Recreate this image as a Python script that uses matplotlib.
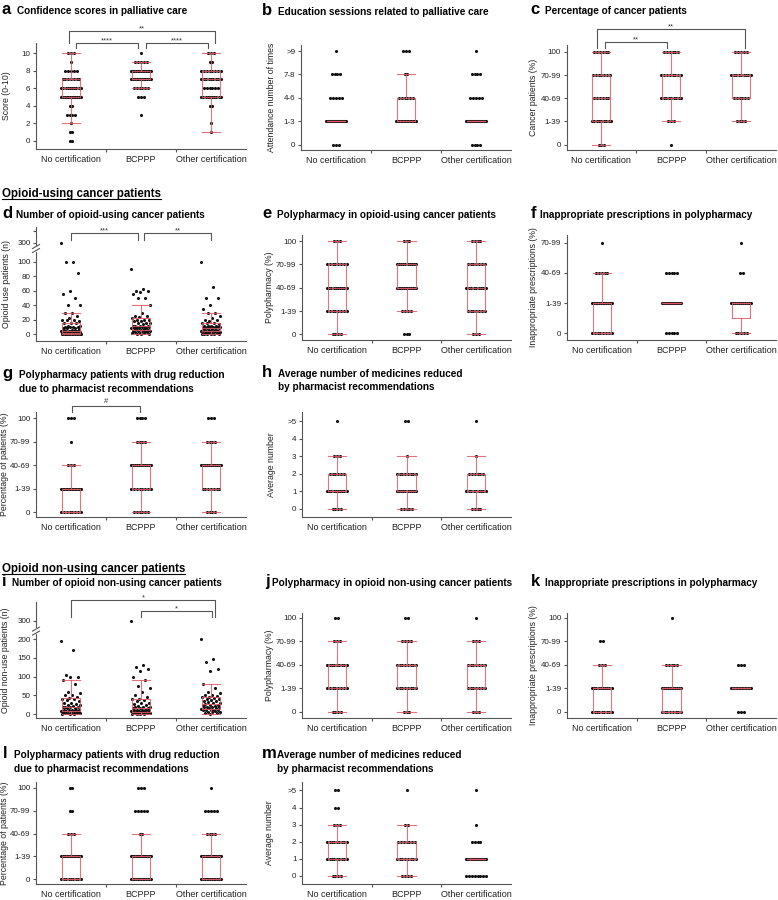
import numpy as np
import matplotlib
matplotlib.use("Agg")
import matplotlib.pyplot as plt
from matplotlib.lines import Line2D

plt.rcParams['font.family'] = ['Liberation Sans', 'DejaVu Sans']

W, H = 778, 900
BOX = "#dc5a67"
AXC = "#555555"

groups = ["No certification", "BCPPP", "Other certification"]
pct_labels = ["0", "1-39", "40-69", "70-99", "100"]
edu_labels = ["0", "1-3", "4-6", "7-8", ">9"]
num_labels = ["0", "1", "2", "3", "4", ">5"]
inap_labels = ["0", "1-39", "40-69", "70-99"]

# number of respondents at each answer level (one list per group)
a_counts = [[2, 2, 1, 4, 2, 12, 10, 7, 5, 1, 3],
            [0, 0, 0, 1, 0, 3, 6, 12, 13, 5, 1],
            [0, 1, 1, 0, 2, 10, 6, 9, 8, 2, 3]]
b_counts = [[3, 28, 5, 4, 1], [0, 14, 6, 2, 3], [4, 28, 5, 4, 1]]
c_counts = [[3, 9, 6, 7, 6], [1, 3, 9, 8, 6], [0, 4, 6, 9, 5]]
e_counts = [[4, 8, 10, 8, 3], [3, 4, 12, 10, 3], [3, 7, 9, 7, 4]]
f_counts = [[8, 12, 5, 1], [5, 20, 5, 0], [5, 11, 2, 1]]
g_counts = [[8, 14, 3, 1, 3], [6, 8, 11, 4, 4], [4, 7, 11, 4, 3]]
h_counts = [[4, 10, 6, 3, 0, 1], [5, 10, 8, 1, 0, 2], [4, 9, 6, 1, 0, 1]]
j_counts = [[4, 8, 9, 3, 2], [3, 8, 8, 4, 2], [3, 7, 7, 3, 1]]
k_counts = [[9, 10, 3, 2, 0], [8, 11, 5, 0, 1], [3, 14, 3, 0, 0]]
l_counts = [[9, 15, 3, 2, 2], [13, 19, 2, 5, 3], [12, 19, 4, 5, 1]]
m_counts = [[4, 9, 9, 3, 2, 2], [4, 8, 7, 2, 0, 1], [8, 20, 4, 1, 0, 1]]

# opioid-using patients per pharmacy (n)
d_none = [300, 100, 100, 85, 60, 55, 50, 40, 40, 30, 30, 25, 22, 20, 20, 20, 18,
          15, 15, 15, 12, 12, 10, 10, 10, 10, 8, 8, 8, 7, 6, 6, 5, 5, 5, 5, 5,
          4, 4, 4, 4, 3, 3, 3, 3, 3, 3, 2, 2, 2, 2, 2, 2, 2, 1, 1, 1, 1, 1, 1,
          1, 1, 1, 0, 0, 0, 0, 0, 0]
d_bcppp = [90, 62, 60, 60, 58, 55, 50, 50, 40, 30, 25, 25, 24, 22, 20, 20, 20,
           18, 18, 15, 15, 15, 14, 12, 12, 12, 11, 10, 10, 10, 10, 9, 8, 8, 8,
           7, 7, 6, 6, 5, 5, 5, 4, 4, 3, 3, 2, 2, 2, 1, 0, 0]
d_other = [100, 65, 50, 50, 40, 35, 30, 30, 25, 22, 20, 20, 18, 15, 15, 15, 14,
           12, 12, 12, 11, 10, 10, 10, 10, 10, 9, 8, 8, 8, 7, 7, 6, 6, 5, 5, 5,
           5, 4, 4, 4, 3, 3, 3, 2, 2, 2, 1, 1, 1, 0, 0, 0]
# opioid non-using patients per pharmacy (n)
i_none = [195, 170, 105, 100, 100, 90, 80, 60, 55, 50, 50, 45, 42, 40, 40, 38,
          35, 30, 30, 28, 25, 25, 22, 20, 20, 20, 18, 15, 15, 12, 12, 10, 10,
          10, 8, 8, 7, 6, 5, 5, 5, 4, 3, 3, 2, 2, 1, 0, 0]
i_bcppp = [300, 130, 125, 120, 115, 100, 90, 75, 70, 60, 50, 45, 40, 40, 38, 35,
           30, 30, 28, 25, 22, 20, 20, 18, 15, 15, 15, 12, 12, 10, 10, 10, 10,
           8, 8, 7, 6, 5, 5, 5, 5, 4, 3, 3, 2, 2, 1, 1, 0, 0]
i_other = [200, 148, 140, 120, 115, 80, 70, 60, 55, 50, 50, 48, 45, 45, 42, 40,
           40, 38, 35, 35, 32, 30, 30, 28, 25, 25, 25, 22, 20, 20, 20, 18, 15,
           15, 14, 12, 12, 10, 10, 10, 8, 6, 5, 5, 3, 2, 0]


def expand(counts):
    return [np.repeat(np.arange(len(c)), c) for c in counts]


def spread(vals, ordinal):
    vals = np.asarray(vals, float)
    off = np.zeros(len(vals))
    if ordinal:
        for v in np.unique(vals):
            idx = np.where(vals == v)[0]
            k = len(idx)
            if k > 1:
                hw = min(0.14, 0.04 * (k - 1) / 2)
                off[idx] = np.linspace(-hw, hw, k)
    else:
        off = ((np.arange(len(vals)) * 0.618034) % 1 - 0.5) * 0.28
    return off


def brk(lim, k):
    fwd = lambda y: np.where(y <= lim, y, lim + (y - lim) * k)
    inv = lambda z: np.where(z <= lim, z, lim + (z - lim) / k)
    return fwd, inv


fig = plt.figure(figsize=(W / 100, H / 100), dpi=100)


def panel(rect, data, ylim, yticks, yticklabels, ylabel, labx, ordinal=True, scale=None):
    l, t, r, b = rect
    ax = fig.add_axes([l / W, 1 - b / H, (r - l) / W, (b - t) / H])
    if scale is not None:
        ax.set_yscale('function', functions=scale)
    for i, vals in enumerate(data):
        ax.scatter(i + spread(vals, ordinal), vals, s=5, color='#111111', lw=0,
                   zorder=2, clip_on=False)
    lp = dict(color=BOX, lw=0.8, alpha=0.85)
    ax.boxplot(data, positions=[0, 1, 2], widths=0.26, capwidths=0.26, whis=1.5,
               showfliers=False, boxprops=lp, whiskerprops=lp, capprops=lp,
               medianprops=lp, zorder=3)
    ax.set_xlim(-0.5, 2.5)
    ax.set_ylim(*ylim)
    ax.set_xticks([0, 1, 2])
    ax.set_xticklabels(groups, fontsize=6.5, color='#222222')
    ax.set_xticks([0.5, 1.5], minor=True)
    ax.tick_params(axis='x', which='major', length=0, pad=4.5)
    ax.tick_params(axis='x', which='minor', length=2.5, width=0.8, color=AXC)
    ax.set_yticks(yticks)
    ax.set_yticklabels(yticklabels, fontsize=5.8, color='#222222')
    ax.yaxis.set_minor_locator(matplotlib.ticker.NullLocator())
    ax.tick_params(axis='y', length=2.5, width=0.8, color=AXC, pad=1.5)
    for s in ['top', 'right']:
        ax.spines[s].set_visible(False)
    for s in ['left', 'bottom']:
        ax.spines[s].set_color(AXC)
        ax.spines[s].set_linewidth(0.8)
    ax.set_ylabel(ylabel, fontsize=6.3, color='#222222', va='center')
    ax.yaxis.set_label_coords((labx - l) / (r - l), 0.5)
    return ax


def bracket(ax, rect, x1, x2, yline, yleg, label, dy=0.5):
    l, t, r, b = rect
    fy = lambda p: (b - p) / (b - t)
    tr = ax.get_xaxis_transform()
    ax.plot([x1, x1, x2, x2], [fy(yleg), fy(yline), fy(yline), fy(yleg)],
            color='#555555', lw=0.8, transform=tr, clip_on=False)
    ax.text((x1 + x2) / 2, fy(yline - dy), label, transform=tr, ha='center',
            va='baseline', fontsize=5.5, color='#333333')


def axis_break(ax, rect, fwd, ylim, ybreak):
    l, t, r, b = rect
    lo, hi = fwd(np.array(ylim[0])), fwd(np.array(ylim[1]))
    yf = float((fwd(np.array(ybreak)) - lo) / (hi - lo))
    dx, dy, g = 3.5 / (r - l), 2.0 / (b - t), 2.0 / (b - t)
    ax.plot([0, 0], [yf - g, yf + g], color='white', lw=1.6, transform=ax.transAxes,
            clip_on=False, zorder=5)
    for o in (-g, g):
        ax.plot([-dx, dx], [yf + o - dy, yf + o + dy], color=AXC, lw=0.8,
                transform=ax.transAxes, clip_on=False, zorder=6)


def title(x, y, letter, lines, tx):
    fig.text(x / W, 1 - y / H, letter, fontsize=12, weight='bold', va='baseline')
    for n, s in enumerate(lines):
        fig.text(tx / W, 1 - (y + 13.5 * n) / H, s, fontsize=7.2, weight='bold',
                 va='baseline')


def header(x, y, s):
    t = fig.text(x / W, 1 - y / H, s, fontsize=8.3, weight='bold', va='baseline')
    bb = t.get_window_extent(renderer=fig.canvas.get_renderer())
    fig.add_artist(Line2D([bb.x0 / W, bb.x1 / W], [1 - (y + 2) / H] * 2,
                          color='black', lw=0.8, transform=fig.transFigure))


# panel a
ra = (36, 43, 246, 149)
ax = panel(ra, expand(a_counts), (-0.91, 11.14), range(0, 11, 2),
           [str(v) for v in range(0, 11, 2)], "Score (0-10)", 7)
bracket(ax, ra, 0.07, 0.95, 42.7, 48, "****")
bracket(ax, ra, 1.07, 1.95, 42.7, 48, "****")
bracket(ax, ra, -0.03, 2.05, 30.7, 43, "**")
title(2, 14, "a", ["Confidence scores in palliative care"], 17)

# panel b
rb = (301, 45, 511, 150)
panel(rb, expand(b_counts), (-0.23, 4.26), range(5), edu_labels,
      "Attendance number of times", 272)
title(262, 15, "b", ["Education sessions related to palliative care"], 278)

# panel c
rc = (566.5, 45, 776, 150)
ax = panel(rc, expand(c_counts), (-0.23, 4.30), range(5), pct_labels,
           "Cancer patients (%)", 533)
bracket(ax, rc, 0.05, 0.94, 41.7, 48, "**")
bracket(ax, rc, -0.07, 2.05, 29, 48, "**")
title(530, 14, "c", ["Percentage of cancer patients"], 545)

header(2, 197, "Opioid-using cancer patients")

# panel d
rd = (36, 227, 246, 341)
dfwd, dinv = brk(110, 0.0821)
ax = panel(rd, [d_none, d_bcppp, d_other], (-9.2, 568), [0, 20, 40, 60, 80, 100, 300, 500],
           ["0", "20", "40", "60", "80", "100", "300", ""], "Opioid use patients (n)", 7,
           ordinal=False, scale=(dfwd, dinv))
axis_break(ax, rd, dfwd, (-9.2, 568), 207)
bracket(ax, rd, 0.0, 0.95, 233.3, 240, "***")
bracket(ax, rd, 1.04, 2.0, 233.3, 240, "**")
title(2, 218, "d", ["Number of opioid-using cancer patients"], 16)

# panel e
re_ = (302, 235, 511, 340)
panel(re_, expand(e_counts), (-0.24, 4.26), range(5), pct_labels, "Polypharmacy (%)", 270)
title(262, 218, "e", ["Polypharmacy in opioid-using cancer patients"], 277)

# panel f
rf = (567, 235, 776, 340)
panel(rf, expand(f_counts), (-0.22, 3.25), range(4), inap_labels,
      "Inappropriate prescriptions (%)", 533)
title(531, 218, "f", ["Inappropriate prescriptions in polypharmacy"], 540)

# panel g
rg = (36, 412, 246, 517)
ax = panel(rg, expand(g_counts), (-0.21, 4.26), range(5), pct_labels,
           "Percentage of patients (%)", 5)
bracket(ax, rg, 0.02, 0.98, 406, 412, "#", dy=3)
title(2, 378, "g", ["Polypharmacy patients with drug reduction",
                    "due to pharmacist recommendations"], 19)

# panel h
rh = (302, 412, 511, 517)
panel(rh, expand(h_counts), (-0.48, 5.53), range(6), num_labels, "Average number", 271)
title(262, 377, "h", ["Average number of medicines reduced",
                      "by pharmacist recommendations"], 278)

header(2, 572, "Opioid non-using cancer patients")

# panel i
ri = (36, 602, 246, 718)
ifwd, iinv = brk(210, 0.429)
ax = panel(ri, [i_none, i_bcppp, i_other], (-10.6, 417), [0, 50, 100, 150, 200, 300],
           ["0", "50", "100", "150", "200", "300"], "Opioid non-use patients (n)", 6,
           ordinal=False, scale=(ifwd, iinv))
axis_break(ax, ri, ifwd, (-10.6, 417), 236)
bracket(ax, ri, 0.0, 2.06, 600, 616.7, "*")
bracket(ax, ri, 1.0, 2.02, 611, 616.7, "*")
title(2, 586, "i", ["Number of opioid non-using cancer patients"], 12)

# panel j
rj = (302, 613, 511, 718)
panel(rj, expand(j_counts), (-0.26, 4.21), range(5), pct_labels, "Polypharmacy (%)", 270)
title(265, 586, "j", ["Polypharmacy in opioid non-using cancer patients"], 272)

# panel k
rk = (567, 613, 776, 718)
panel(rk, expand(k_counts), (-0.26, 4.21), range(5), pct_labels,
      "Inappropriate prescriptions (%)", 533)
title(531, 586, "k", ["Inappropriate prescriptions in polypharmacy"], 545)

# panel l
rl = (36, 782, 246, 884)
panel(rl, expand(l_counts), (-0.21, 4.26), range(5), pct_labels,
      "Percentage of patients (%)", 5)
title(3, 758, "l", ["Polypharmacy patients with drug reduction",
                    "due to pharmacist recommendations"], 14)

# panel m
rm = (302, 782, 511, 884)
panel(rm, expand(m_counts), (-0.47, 5.49), range(6), num_labels, "Average number", 270)
title(262, 758, "m", ["Average number of medicines reduced",
                      "by pharmacist recommendations"], 277)

fig.savefig("out.png", dpi=100)
plt.close('all')
